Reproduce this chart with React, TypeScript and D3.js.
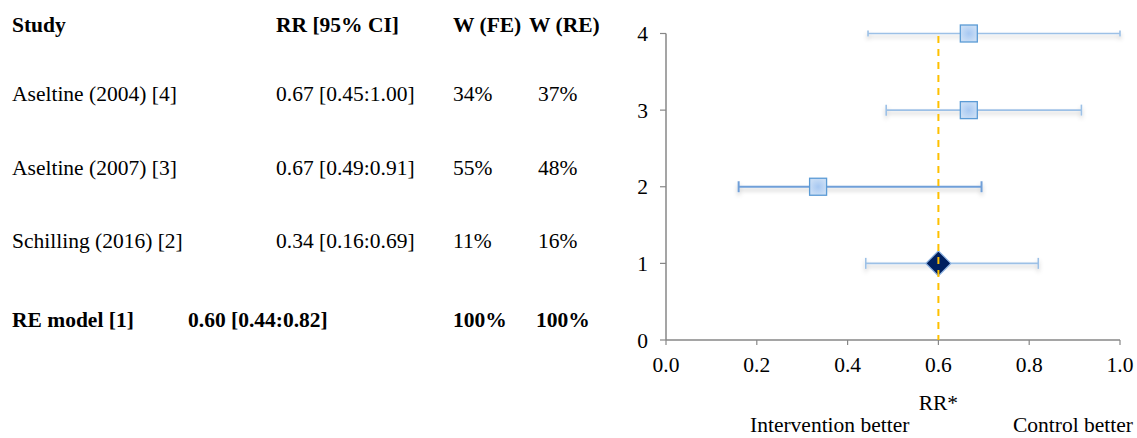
import React, { useEffect, useRef } from 'react';
import * as d3 from 'd3';

// Table rows (top to bottom)
const studies = ['Aseltine (2004) [4]', 'Aseltine (2007) [3]', 'Schilling (2016) [2]'];
const rrText = ['0.67 [0.45:1.00]', '0.67 [0.49:0.91]', '0.34 [0.16:0.69]'];
const weightFE = ['34%', '55%', '11%'];
const weightRE = ['37%', '48%', '16%'];
const summaryLabel = 'RE model [1]';
const summaryText = '0.60 [0.44:0.82]';

// Plotted values, row position on the y axis
const rowPos = [4, 3, 2];
const rr = [0.667, 0.667, 0.335];
const lower = [0.445, 0.485, 0.16];
const upper = [1.0, 0.915, 0.695];
const summaryPos = 1;
const summaryRR = 0.6;
const summaryLower = 0.44;
const summaryUpper = 0.82;

const xTicks = [0, 0.2, 0.4, 0.6, 0.8, 1.0];
const yTicks = [0, 1, 2, 3, 4];

const FONT = '"Liberation Serif", "Times New Roman", serif';

const App = () => {
  const svgRef = useRef<SVGSVGElement>(null);

  useEffect(() => {
    const svg = d3.select(svgRef.current);
    svg.selectAll('*').remove();

    const x = d3.scaleLinear().domain([0, 1]).range([666, 1120]);
    const y = d3.scaleLinear().domain([0, 4]).range([340, 33.5]);

    const defs = svg.append('defs');
    const shadow = defs.append('filter').attr('id', 'shadow')
      .attr('x', '-10%').attr('y', '-100%').attr('width', '120%').attr('height', '400%');
    shadow.append('feDropShadow')
      .attr('dx', 0).attr('dy', 3).attr('stdDeviation', 2)
      .attr('flood-color', '#000').attr('flood-opacity', 0.22);

    const grad = defs.append('radialGradient').attr('id', 'sq');
    grad.append('stop').attr('offset', '0%').attr('stop-color', '#A7C8F2');
    grad.append('stop').attr('offset', '100%').attr('stop-color', '#C9DDF5');

    // ----- table -----
    const table = svg.append('g').style('font-family', FONT).style('font-size', '21.5px').attr('fill', '#000');
    const headers: [string, number][] = [['Study', 12], ['RR [95% CI]', 276], ['W (FE)', 453], ['W (RE)', 529]];
    headers.forEach(([t, px]) => {
      table.append('text').attr('x', px).attr('y', 32).attr('font-weight', 'bold').text(t);
    });
    const rowY = [101, 175, 248];
    studies.forEach((s, i) => {
      table.append('text').attr('x', 12).attr('y', rowY[i]).text(s);
      table.append('text').attr('x', 276).attr('y', rowY[i]).text(rrText[i]);
      table.append('text').attr('x', 453).attr('y', rowY[i]).text(weightFE[i]);
      table.append('text').attr('x', 538).attr('y', rowY[i]).text(weightRE[i]);
    });
    const sumRow = table.append('g').attr('font-weight', 'bold');
    sumRow.append('text').attr('x', 12).attr('y', 327).text(summaryLabel);
    sumRow.append('text').attr('x', 188).attr('y', 327).text(summaryText);
    sumRow.append('text').attr('x', 453).attr('y', 327).text('100%');
    sumRow.append('text').attr('x', 536).attr('y', 327).text('100%');

    // ----- axes -----
    const axisColor = '#878787';
    const ax = svg.append('g');
    ax.append('line').attr('x1', x(0)).attr('x2', x(0)).attr('y1', y(4)).attr('y2', y(0))
      .attr('stroke', axisColor).attr('stroke-width', 1.5);
    ax.append('line').attr('x1', x(0)).attr('x2', x(1)).attr('y1', y(0)).attr('y2', y(0))
      .attr('stroke', axisColor).attr('stroke-width', 1.5);

    ax.selectAll('.ytick').data(yTicks).enter().append('line')
      .attr('x1', x(0) - 6).attr('x2', x(0)).attr('y1', d => y(d)).attr('y2', d => y(d))
      .attr('stroke', axisColor).attr('stroke-width', 1.2);
    ax.selectAll('.xtick').data(xTicks).enter().append('line')
      .attr('x1', d => x(d)).attr('x2', d => x(d)).attr('y1', y(0)).attr('y2', y(0) + 5)
      .attr('stroke', axisColor).attr('stroke-width', 1.2);

    ax.selectAll('.ylab').data(yTicks).enter().append('text')
      .attr('x', 648).attr('y', d => y(d)).attr('dy', '0.36em')
      .attr('text-anchor', 'end')
      .style('font-family', FONT).style('font-size', '21.5px')
      .text(d => d);
    ax.selectAll('.xlab').data(xTicks).enter().append('text')
      .attr('x', d => x(d)).attr('y', 372)
      .attr('text-anchor', 'middle')
      .style('font-family', FONT).style('font-size', '21.5px')
      .text(d => d.toFixed(1));

    ax.append('text').attr('x', x(0.6)).attr('y', 410).attr('text-anchor', 'middle')
      .style('font-family', FONT).style('font-size', '21.5px').text('RR*');
    ax.append('text').attr('x', 750).attr('y', 432)
      .style('font-family', FONT).style('font-size', '21.5px').text('Intervention better');
    ax.append('text').attr('x', 1013).attr('y', 432)
      .style('font-family', FONT).style('font-size', '21.5px').text('Control better');

    // ----- error bars -----
    const bars = svg.append('g').attr('filter', 'url(#shadow)');
    const barColor = (i: number) => (i === 2 ? '#6F9FD8' : '#9CC0E6');
    const barWidth = (i: number) => (i === 2 ? 2 : 1.6);
    const capH = (i: number) => (i === 0 ? 6 : 11);

    rowPos.forEach((p, i) => {
      const g = bars.append('g').attr('stroke', barColor(i)).attr('stroke-width', barWidth(i));
      g.append('line').attr('x1', x(lower[i])).attr('x2', x(upper[i])).attr('y1', y(p)).attr('y2', y(p));
      [lower[i], upper[i]].forEach(v => {
        g.append('line').attr('x1', x(v)).attr('x2', x(v))
          .attr('y1', y(p) - capH(i) / 2).attr('y2', y(p) + capH(i) / 2);
      });
    });
    const sg = bars.append('g').attr('stroke', '#9CC0E6').attr('stroke-width', 1.6);
    sg.append('line').attr('x1', x(summaryLower)).attr('x2', x(summaryUpper))
      .attr('y1', y(summaryPos)).attr('y2', y(summaryPos));
    [summaryLower, summaryUpper].forEach(v => {
      sg.append('line').attr('x1', x(v)).attr('x2', x(v))
        .attr('y1', y(summaryPos) - 5.5).attr('y2', y(summaryPos) + 5.5);
    });

    // ----- markers -----
    const s = 17;
    svg.selectAll('.sq').data(rowPos).enter().append('rect')
      .attr('x', (d, i) => x(rr[i]) - s / 2).attr('y', d => y(d) - s / 2)
      .attr('width', s).attr('height', s)
      .attr('fill', 'url(#sq)').attr('stroke', '#5B9BD5').attr('stroke-width', 1.3);

    const dx = x(summaryRR), dy = y(summaryPos), r = 12.5;
    svg.append('path')
      .attr('d', `M${dx - r},${dy} L${dx},${dy - r} L${dx + r},${dy} L${dx},${dy + r} Z`)
      .attr('fill', '#002060').attr('stroke', '#8DB3E2').attr('stroke-width', 1.2);

    // ----- reference line -----
    svg.append('line')
      .attr('x1', x(summaryRR)).attr('x2', x(summaryRR)).attr('y1', 36).attr('y2', y(0))
      .attr('stroke', '#FFC000').attr('stroke-width', 2).attr('stroke-dasharray', '7,6');
  }, []);

  return (
    <svg ref={svgRef} width={1137} height={438}
      style={{ position: 'absolute', left: 0, top: 0, background: '#fff', overflow: 'hidden' }} />
  );
};

export default App;
